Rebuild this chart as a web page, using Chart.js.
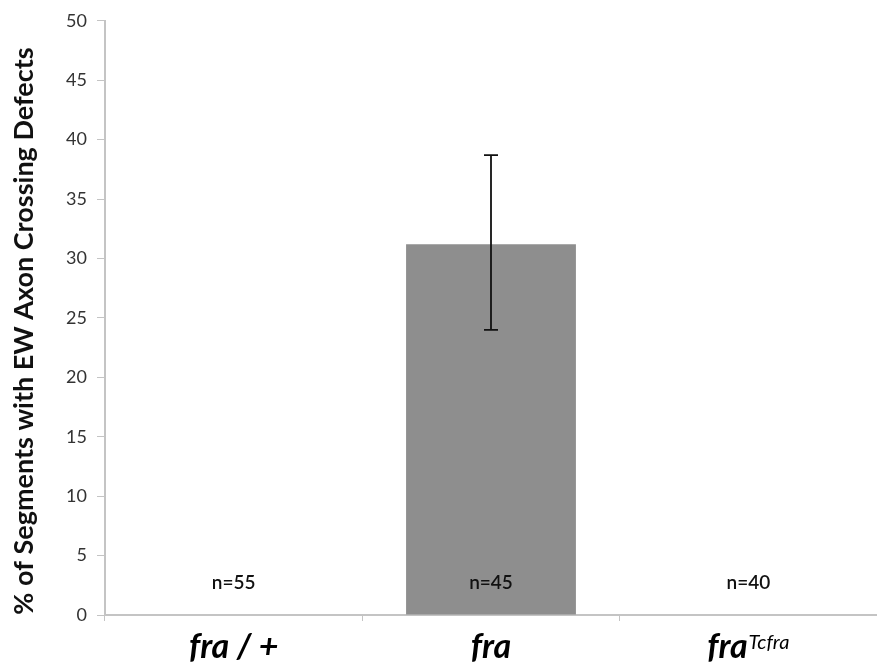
<!DOCTYPE html>
<html>
<head>
<meta charset="utf-8">
<script src="https://cdn.jsdelivr.net/npm/chart.js@4.4.1/dist/chart.umd.min.js"></script>
<style>
  html, body { margin: 0; padding: 0; background: #fff; }
  #wrap { width: 877px; height: 670px; }
</style>
</head>
<body>
<div id="wrap"><canvas id="barChart" width="877" height="670"></canvas></div>
<script>
const categories = ['fra / +', 'fra', 'fra'];
const superscripts = ['', '', 'Tcfra'];
const values = [0, 31.2, 0];
const errLow = [null, 24.0, null];
const errHigh = [null, 38.7, null];
const sampleSizes = ['n=55', 'n=45', 'n=40'];
const yTicks = [0, 5, 10, 15, 20, 25, 30, 35, 40, 45, 50];
const yTitle = '% of Segments with EW Axon Crossing Defects';

const ctx = document.getElementById('barChart').getContext('2d');

// error bars, n= labels, axis title and the italic category names
const extras = {
    id: 'extras',
    afterDatasetsDraw(chart) {
        const c = chart.ctx;
        const x = chart.scales.x;
        const y = chart.scales.y;
        c.save();
        // error bars
        c.strokeStyle = '#111';
        c.lineWidth = 1.8;
        values.forEach((v, i) => {
            if (errLow[i] === null) return;
            const px = x.getPixelForValue(i);
            const top = y.getPixelForValue(errHigh[i]);
            const bot = y.getPixelForValue(errLow[i]);
            c.beginPath();
            c.moveTo(px, top); c.lineTo(px, bot);
            c.moveTo(px - 7, top); c.lineTo(px + 7, top);
            c.moveTo(px - 7, bot); c.lineTo(px + 7, bot);
            c.stroke();
        });
        // n labels
        c.fillStyle = '#111';
        c.font = '600 19px Lato';
        c.textAlign = 'center';
        c.textBaseline = 'middle';
        sampleSizes.forEach((s, i) => {
            c.fillText(s, x.getPixelForValue(i), chart.chartArea.bottom - 32);
        });
        // y title
        c.save();
        c.translate(24, 331);
        c.rotate(-Math.PI / 2);
        c.font = 'bold 27px Lato';
        c.fillStyle = '#111';
        c.fillText(yTitle, 0, 0);
        c.restore();
        // category labels
        const base = chart.chartArea.bottom + 43;
        categories.forEach((cat, i) => {
            const px = x.getPixelForValue(i);
            c.font = 'italic bold 34px Lato';
            const w1 = c.measureText(cat).width;
            c.font = 'italic 20px Lato';
            const w2 = superscripts[i] ? c.measureText(superscripts[i]).width + 1 : 0;
            const start = px - (w1 + w2) / 2;
            c.textAlign = 'left';
            c.textBaseline = 'alphabetic';
            c.fillStyle = '#000';
            c.font = 'italic bold 34px Lato';
            c.fillText(cat, start, base);
            if (superscripts[i]) {
                c.font = 'italic 20px Lato';
                c.fillText(superscripts[i], start + w1 + 1, base - 9);
            }
        });
        c.restore();
    }
};

new Chart(ctx, {
    type: 'bar',
    data: {
        labels: categories,
        datasets: [{
            data: values,
            backgroundColor: '#8e8e8e',
            barPercentage: 0.66,
            categoryPercentage: 1
        }]
    },
    options: {
        responsive: false,
        animation: false,
        layout: { padding: { top: 18, right: -3, left: 0, bottom: 0 } },
        plugins: {
            legend: { display: false },
            tooltip: { enabled: false }
        },
        scales: {
            x: {
                grid: { display: true, drawOnChartArea: false, drawTicks: true, tickLength: 6, color: '#c4c4c4', lineWidth: 1 },
                border: { color: '#c4c4c4', width: 2 },
                ticks: { color: 'rgba(0,0,0,0)', font: { size: 30 } },
                afterFit: s => { s.height = 55; }
            },
            y: {
                min: 0,
                max: 50,
                afterBuildTicks: s => { s.ticks = yTicks.map(v => ({ value: v })); },
                grid: { display: true, drawOnChartArea: false, drawTicks: true, tickLength: 8, color: '#c4c4c4' },
                border: { color: '#c4c4c4', width: 2 },
                ticks: { color: '#333', font: { family: 'Lato', size: 18 }, padding: 10 },
                afterFit: s => { s.width = 105; }
            }
        }
    },
    plugins: [extras]
});
</script>
</body>
</html>
